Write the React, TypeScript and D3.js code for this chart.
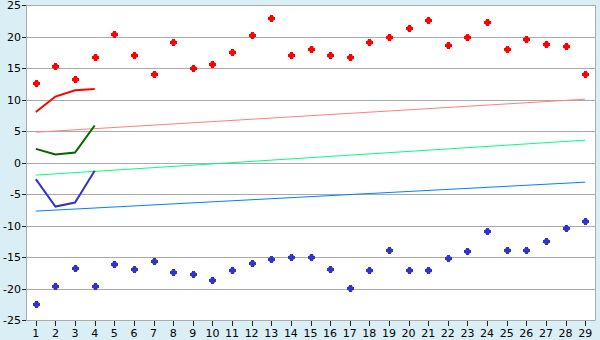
import React from "react";
import * as d3 from "d3";

const categories = d3.range(1, 30).map(String);
const highs = [12.6, 15.3, 13.25, 16.75, 20.4, 17.06, 14.05, 19.13, 15.0, 15.63, 17.54, 20.24, 22.94, 17.06, 18.0, 17.06, 16.75, 19.13, 19.92, 21.35, 22.62, 18.65, 19.92, 22.3, 18.0, 19.6, 18.8, 18.5, 14.05];
const lows = [-22.46, -19.6, -16.8, -19.6, -16.1, -16.9, -15.63, -17.38, -17.7, -18.65, -17.06, -15.95, -15.3, -15.0, -15.0, -16.9, -19.92, -17.06, -13.9, -17.06, -17.06, -15.16, -14.05, -10.87, -13.9, -13.9, -12.46, -10.4, -9.29];
const redLine = [8.06, 10.5, 11.5, 11.7];
const greenLine = [2.19, 1.29, 1.6, 5.9];
const blueLine = [-2.62, -6.97, -6.33, -1.3];
const trendRed = [4.84, 10.08];
const trendGreen = [-1.98, 3.57];
const trendBlue = [-7.7, -3.1];
const yTicks = [-25, -20, -15, -10, -5, 0, 5, 10, 15, 20, 25];

const W = 600, H = 340;
const L = 26, R = 595, T = 5.3, B = 320;

function Marker({ px, py, color }: { px: number; py: number; color: string }) {
  const a = Math.round(px), b = Math.round(py);
  return (
    <g fill={color} shapeRendering="crispEdges">
      <rect x={a - 2} y={b - 2} width={5} height={5} opacity={0.55} />
      <rect x={a - 1} y={b - 3} width={3} height={7} />
      <rect x={a - 3} y={b - 1} width={7} height={3} />
    </g>
  );
}

export default function App() {
  const x = d3.scaleBand().domain(categories).range([L, R]);
  const cx = (c: string) => (x(c) as number) + x.bandwidth() / 2;
  const y = d3.scaleLinear().domain([-25, 25]).range([B, T]);
  const line = d3.line<number>().x((_, i) => cx(categories[i])).y((d) => y(d));
  const trend = (t: number[]) =>
    d3.line<[string, number]>().x((d) => cx(d[0])).y((d) => y(d[1]))([
      [categories[0], t[0]],
      [categories[categories.length - 1], t[1]],
    ]) as string;
  const font = "Verdana, 'DejaVu Sans', sans-serif";
  return (
    <svg width={W} height={H} style={{ position: "absolute", left: 0, top: 0 }}>
      <rect x={0} y={0} width={W} height={H} fill="#daeff5" />
      <rect x={L} y={T} width={R - L} height={B - T} fill="#ffffff" />
      {yTicks.map((t) => (
        <g key={t}>
          <line x1={L} x2={R} y1={Math.round(y(t)) + 0.5} y2={Math.round(y(t)) + 0.5} stroke="#aaaaaa" strokeWidth={1} />
          <line x1={L - 4} x2={L} y1={Math.round(y(t)) + 0.5} y2={Math.round(y(t)) + 0.5} stroke="#222" strokeWidth={1} />
          <text x={L - 5} y={y(t) + 4} textAnchor="end" fontSize={11} fontFamily={font} fill="#000">
            {t}
          </text>
        </g>
      ))}
      <line x1={L + 0.5} x2={L + 0.5} y1={T} y2={B} stroke="#aaaaaa" />
      <line x1={R + 0.5} x2={R + 0.5} y1={T} y2={B + 0.5} stroke="#aaaaaa" />
      {categories.map((c) => (
        <g key={c}>
          <line x1={Math.round(cx(c)) + 0.5} x2={Math.round(cx(c)) + 0.5} y1={B + 1} y2={B + 6} stroke="#222" />
          <text x={cx(c)} y={337} textAnchor="middle" fontSize={11} fontFamily={font} fill="#000">
            {c}
          </text>
        </g>
      ))}
      <path d={trend(trendRed)} stroke="#ff8080" strokeWidth={1} fill="none" />
      <path d={trend(trendGreen)} stroke="#00ff80" strokeWidth={1} fill="none" />
      <path d={trend(trendBlue)} stroke="#0080ff" strokeWidth={1} fill="none" />
      <path d={line(redLine) as string} stroke="#ff0000" strokeWidth={2} fill="none" />
      <path d={line(greenLine) as string} stroke="#006600" strokeWidth={2} fill="none" />
      <path d={line(blueLine) as string} stroke="#3333cc" strokeWidth={2} fill="none" />
      {highs.map((v, i) => (
        <Marker key={"h" + i} px={cx(categories[i])} py={y(v)} color="#ff0000" />
      ))}
      {lows.map((v, i) => (
        <Marker key={"l" + i} px={cx(categories[i])} py={y(v)} color="#3333cc" />
      ))}
    </svg>
  );
}
